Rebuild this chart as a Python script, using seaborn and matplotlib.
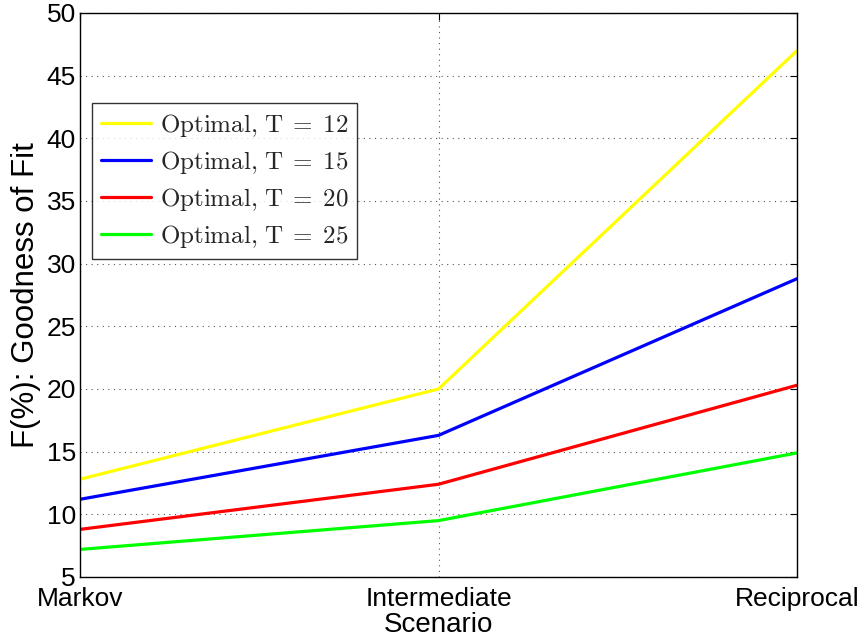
import matplotlib
matplotlib.use("Agg")
import matplotlib.pyplot as plt
import seaborn as sns
import pandas as pd

# Goodness-of-fit results per scenario for each horizon T
scenarios = ["Markov", "Intermediate", "Reciprocal"]
series_labels = [r"$\mathrm{Optimal{,}\ T\;=\;12}$", r"$\mathrm{Optimal{,}\ T\;=\;15}$",
                 r"$\mathrm{Optimal{,}\ T\;=\;20}$", r"$\mathrm{Optimal{,}\ T\;=\;25}$"]
fit_t12 = [12.8, 20.0, 47.0]
fit_t15 = [11.2, 16.3, 28.8]
fit_t20 = [8.8, 12.4, 20.3]
fit_t25 = [7.2, 9.5, 14.9]
colors = ["#FFFF00", "#0000FF", "#FF0000", "#00FF00"]
yticks = [5, 10, 15, 20, 25, 30, 35, 40, 45, 50]

rows = []
for lab, vals in zip(series_labels, [fit_t12, fit_t15, fit_t20, fit_t25]):
    for s, v in zip(scenarios, vals):
        rows.append({"Scenario": s, "F": v, "Series": lab})
df = pd.DataFrame(rows)

sns.set_theme(style="white")
plt.rcParams["font.family"] = ["Liberation Sans", "DejaVu Sans"]
plt.rcParams["mathtext.fontset"] = "cm"

fig = plt.figure(figsize=(8.61, 6.41), dpi=100)
ax = fig.add_axes([80 / 861, 64 / 641, 717 / 861, 564 / 641])

sns.lineplot(data=df, x="Scenario", y="F", hue="Series", palette=colors,
             linewidth=2.3, ax=ax, sort=False)

ax.set_xlim(0, 2)
ax.set_ylim(5, 50)
ax.set_yticks(yticks)
ax.set_xticks([0, 1, 2])
ax.set_xticklabels(scenarios)

for sp in ax.spines.values():
    sp.set_color("black")
    sp.set_linewidth(1.0)

ax.tick_params(axis="both", direction="in", length=5, width=0.8, color="black",
               labelsize=19, labelcolor="black", top=True, right=True)
ax.tick_params(axis="x", pad=7)
ax.tick_params(axis="y", pad=3)
ax.grid(True, linestyle=(0, (1, 4)), color="#555555", linewidth=0.8)

ax.set_xlabel("Scenario", fontsize=20, labelpad=1, color="black")
ax.set_ylabel("F(%): Goodness of Fit", fontsize=22.5, labelpad=4, color="black")

leg = ax.legend(loc="upper left", bbox_to_anchor=(12 / 717, 1 - 90 / 564),
                fontsize=18, frameon=True, fancybox=False, handlelength=2.0,
                handletextpad=0.35, borderpad=0.35, labelspacing=0.4, borderaxespad=0)
leg.get_frame().set_edgecolor("black")
leg.get_frame().set_linewidth(1.0)
for line in leg.get_lines():
    line.set_linewidth(2.3)

fig.savefig("out.png", dpi=100)
